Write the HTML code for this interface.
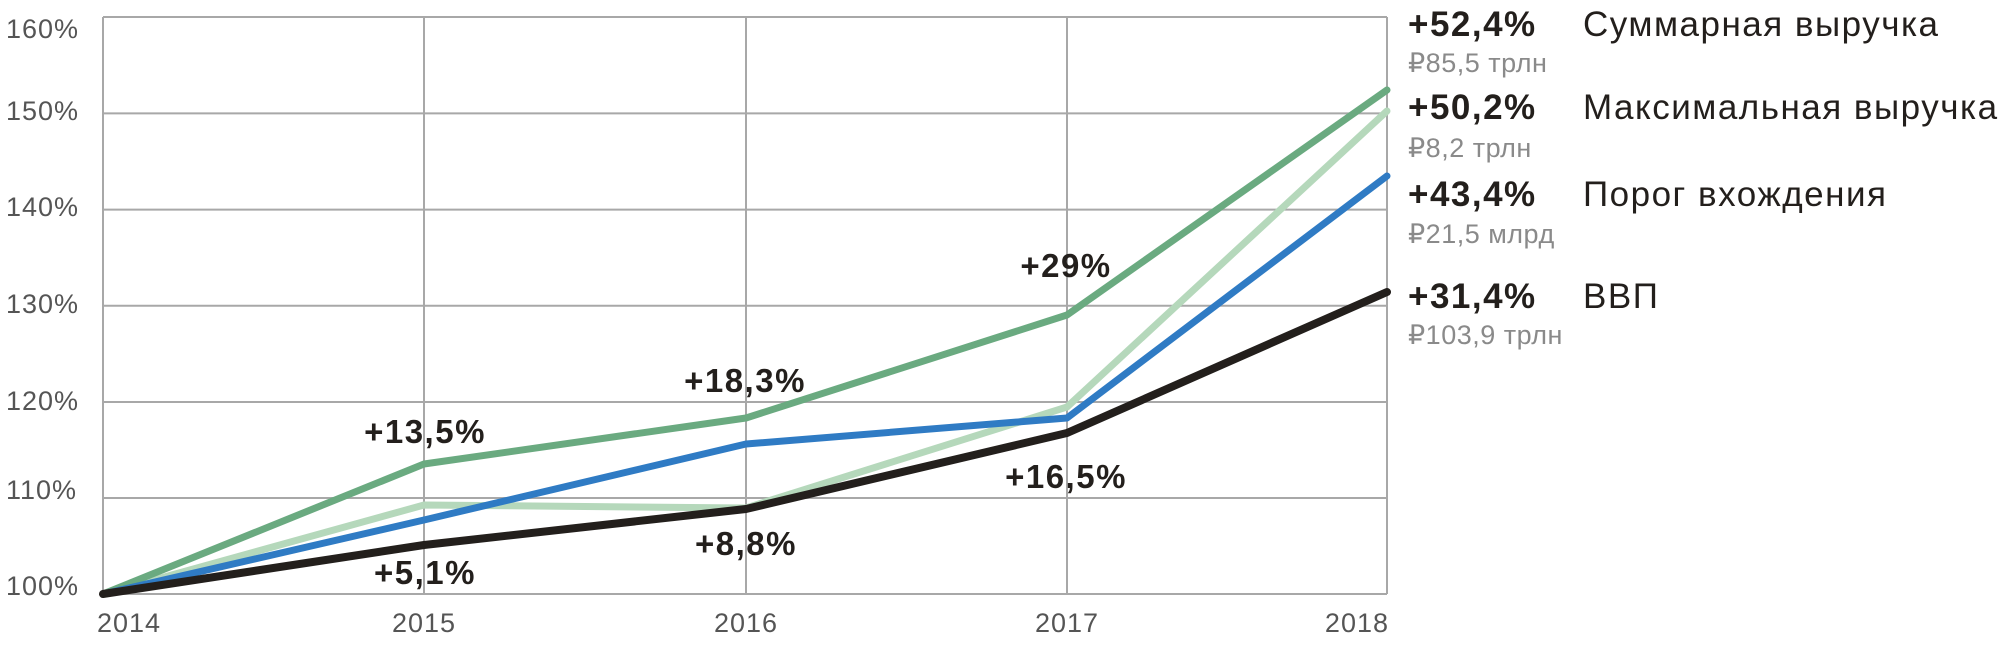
<!DOCTYPE html>
<html><head><meta charset="utf-8"><style>
html,body{margin:0;padding:0;background:#fff;width:2015px;height:655px;overflow:hidden}
svg{display:block}
.t{font-family:"Liberation Sans",sans-serif;font-size:27px;fill:#555;letter-spacing:1px}
.a{font-family:"Liberation Sans",sans-serif;font-size:33px;font-weight:bold;fill:#231f1c;letter-spacing:1.5px}
.lb{font-family:"Liberation Sans",sans-serif;font-size:35px;font-weight:bold;fill:#231f1c;letter-spacing:1.5px}
.ls{font-family:"Liberation Sans",sans-serif;font-size:27px;fill:#8a8a8a;letter-spacing:0.5px}
.ln{font-family:"Liberation Sans",sans-serif;font-size:35px;fill:#231f1c;letter-spacing:1.5px}
</style></head><body>
<svg width="2015" height="655" viewBox="0 0 2015 655">
<g stroke="#a8a8a8" stroke-width="2" fill="none">
<line x1="103" y1="17" x2="1387" y2="17"/>
<line x1="103" y1="113.4" x2="1387" y2="113.4"/>
<line x1="103" y1="209.6" x2="1387" y2="209.6"/>
<line x1="103" y1="305.8" x2="1387" y2="305.8"/>
<line x1="103" y1="402" x2="1387" y2="402"/>
<line x1="103" y1="498" x2="1387" y2="498"/>
<line x1="103" y1="594" x2="1387" y2="594"/>
<line x1="103" y1="17" x2="103" y2="594"/>
<line x1="424" y1="17" x2="424" y2="594"/>
<line x1="746" y1="17" x2="746" y2="594"/>
<line x1="1067" y1="17" x2="1067" y2="594"/>
<line x1="1387" y1="17" x2="1387" y2="594"/>
</g>
<g class="t">
<text x="6" y="38">160%</text>
<text x="6" y="120">150%</text>
<text x="6" y="216">140%</text>
<text x="6" y="313">130%</text>
<text x="6" y="410">120%</text>
<text x="6" y="499">110%</text>
<text x="6" y="595">100%</text>
<text x="97" y="632">2014</text>
<text x="424" y="632" text-anchor="middle">2015</text>
<text x="746" y="632" text-anchor="middle">2016</text>
<text x="1067" y="632" text-anchor="middle">2017</text>
<text x="1389" y="632" text-anchor="end">2018</text>
</g>
<g fill="none" stroke-width="7" stroke-linejoin="round" stroke-linecap="round">
<polyline stroke="#b5d8bb" points="103,594 424,505 746,508 1067,407 1387,111"/>
<polyline stroke="#6aaa80" points="103,594 424,464 746,418 1067,315 1387,90"/>
<polyline stroke="#2f7bc4" points="103,594 424,520 746,444 1067,418 1387,176"/>
<polyline stroke="#231f1c" stroke-width="8" points="103,594 424,545 746,509 1067,433 1387,292"/>
</g>
<g class="a" text-anchor="middle">
<text x="425" y="443">+13,5%</text>
<text x="425" y="584">+5,1%</text>
<text x="746" y="555">+8,8%</text>
<text x="745" y="392">+18,3%</text>
<text x="1066" y="277">+29%</text>
<text x="1066" y="488">+16,5%</text>
</g>
<g>
<text class="lb" x="1408" y="36">+52,4%</text>
<text class="ls" x="1408" y="72">₽85,5 трлн</text>
<text class="ln" x="1583" y="36">Суммарная выручка</text>
<text class="lb" x="1408" y="119">+50,2%</text>
<text class="ls" x="1408" y="157">₽8,2 трлн</text>
<text class="ln" x="1583" y="119">Максимальная выручка</text>
<text class="lb" x="1408" y="206">+43,4%</text>
<text class="ls" x="1408" y="243">₽21,5 млрд</text>
<text class="ln" x="1583" y="206">Порог вхождения</text>
<text class="lb" x="1408" y="308">+31,4%</text>
<text class="ls" x="1408" y="344">₽103,9 трлн</text>
<text class="ln" x="1583" y="308">ВВП</text>
</g>
</svg>
</body></html>
